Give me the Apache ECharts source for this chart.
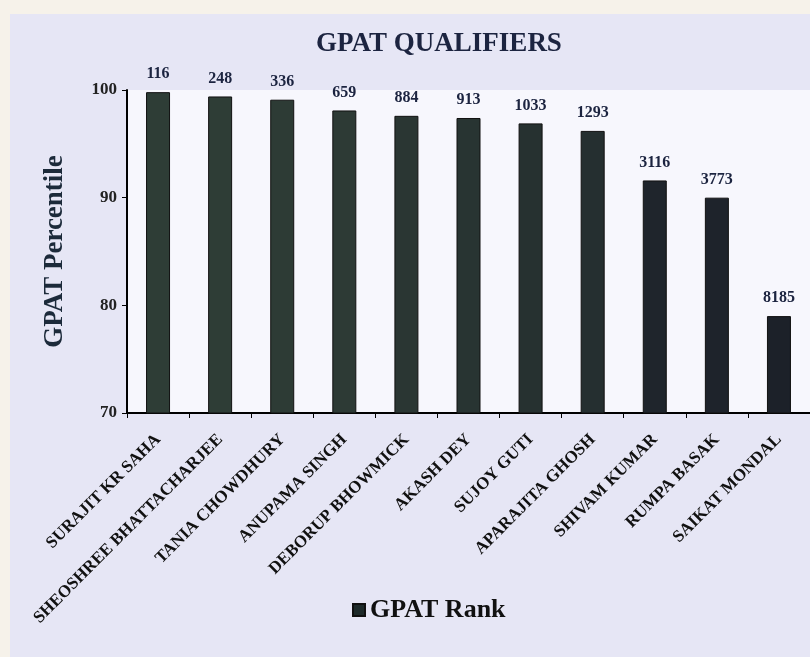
<!DOCTYPE html>
<html>
<head>
<meta charset="utf-8">
<script src="https://cdn.jsdelivr.net/npm/echarts@6/dist/echarts.min.js"></script>
<style>
html,body{margin:0;padding:0;background:#f6f2ea;}
#chart{width:810px;height:657px;}
</style>
</head>
<body>
<div id="chart"></div>
<script>
const names = ["SURAJIT KR SAHA", "SHEOSHREE BHATTACHARJEE", "TANIA CHOWDHURY", "ANUPAMA SINGH", "DEBORUP BHOWMICK", "AKASH DEY", "SUJOY GUTI", "APARAJITA GHOSH", "SHIVAM KUMAR", "RUMPA BASAK", "SAIKAT MONDAL"];
const percentile = [99.8, 99.4, 99.1, 98.1, 97.6, 97.4, 96.9, 96.2, 91.6, 90.0, 79.0];
const ranks = [116, 248, 336, 659, 884, 913, 1033, 1293, 3116, 3773, 8185];
const yTicks = [70, 80, 90, 100];

const chart = echarts.init(document.getElementById('chart'), null, {renderer: 'canvas'});
const serif = '"Liberation Serif", "DejaVu Serif", serif';
const barColors = ['#2e3d36','#2e3d36','#2d3b35','#2d3a35','#2a3633','#283432','#263130','#252f30','#1f252c','#1e232b','#1c2129'];

chart.setOption({
  backgroundColor: '#f6f2ea',
  graphic: [
    {type: 'rect', shape: {x: 10, y: 14, width: 800, height: 643}, style: {fill: '#e6e6f5'}, z: -10},
    {type: 'rect', shape: {x: 127, y: 90, width: 683, height: 323}, style: {fill: '#f7f7fd'}, z: -9}
  ],
  title: {
    text: 'GPAT QUALIFIERS',
    left: 434, top: 26, textAlign: 'center',
    textStyle: {fontFamily: serif, fontWeight: 'bold', fontSize: 27, color: '#1c2440'}
  },
  legend: {
    data: ['GPAT Rank'],
    left: 347, top: 592,
    icon: 'rect', itemWidth: 12, itemHeight: 12, itemGap: 4,
    textStyle: {fontFamily: serif, fontWeight: 'bold', fontSize: 26, color: '#111'}
  },
  grid: {left: 127, top: 90, width: 683, height: 323, containLabel: false},
  xAxis: {
    type: 'category',
    data: names,
    axisLine: {lineStyle: {color: '#000', width: 2}},
    axisTick: {show: true, length: 5, lineStyle: {color: '#000'}},
    axisLabel: {rotate: 45, interval: 0, margin: 24, fontFamily: serif, fontWeight: 'bold', fontSize: 17, color: '#111'}
  },
  yAxis: {
    type: 'value', min: 70, max: 100, interval: 10,
    name: 'GPAT Percentile', nameLocation: 'middle', nameGap: 58,
    nameTextStyle: {fontFamily: serif, fontWeight: 'bold', fontSize: 27, color: '#1c2a3a'},
    axisLine: {show: true, lineStyle: {color: '#000', width: 2}},
    axisTick: {show: true, length: 5, lineStyle: {color: '#000'}},
    splitLine: {show: false},
    axisLabel: {margin: 10, fontFamily: serif, fontWeight: 'bold', fontSize: 17, color: '#222',
      formatter: v => yTicks.includes(v) ? String(v) : ''}
  },
  series: [{
    name: 'GPAT Rank',
    type: 'bar',
    barWidth: 24,
    data: percentile.map((v, i) => ({value: v, itemStyle: {color: barColors[i]}})),
    itemStyle: {color: '#1e2a2a', borderColor: '#111', borderWidth: 1},
    label: {
      show: true, position: 'top', distance: 10,
      formatter: p => String(ranks[p.dataIndex]),
      fontFamily: serif, fontWeight: 'bold', fontSize: 16, color: '#1c2440'
    }
  }]
});
</script>
</body>
</html>
